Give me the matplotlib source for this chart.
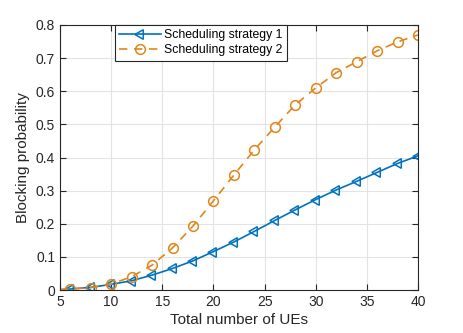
import matplotlib
matplotlib.use("Agg")
import matplotlib.pyplot as plt

ues = [5, 6, 8, 10, 12, 14, 16, 18, 20, 22, 24, 26, 28, 30, 32, 34, 36, 38, 40]
strategy1 = [0.001, 0.003, 0.008, 0.017, 0.028, 0.045, 0.065, 0.088, 0.116, 0.145, 0.177,
             0.210, 0.242, 0.273, 0.302, 0.328, 0.355, 0.382, 0.405]
strategy2 = [0.001, 0.003, 0.007, 0.018, 0.040, 0.075, 0.127, 0.193, 0.269, 0.347, 0.423,
             0.492, 0.559, 0.610, 0.656, 0.689, 0.722, 0.749, 0.770]
labels = ["Scheduling strategy 1", "Scheduling strategy 2"]
xticks = [5, 10, 15, 20, 25, 30, 35, 40]
yticks = [0, 0.1, 0.2, 0.3, 0.4, 0.5, 0.6, 0.7, 0.8]

plt.rcParams['font.family'] = ['Liberation Sans', 'DejaVu Sans']

fig = plt.figure(figsize=(4.63, 3.33), dpi=100)
ax = fig.add_axes([60/463, 1 - 290/333, 358/463, 265/333])

blue = '#0072BD'
orange = '#E0861C'
ax.plot(ues, strategy1, '-', color=blue, lw=1.2, marker=(3, 0, 90), markersize=8,
        markerfacecolor='none', markeredgewidth=1.1, markevery=slice(1, None), label=labels[0])
ax.plot(ues, strategy2, '--', color=orange, lw=1.2, marker='o', markersize=7,
        markerfacecolor='none', markeredgewidth=1.1, markevery=slice(1, None), label=labels[1],
        dashes=(5, 4))

ax.set_xlim(5, 40)
ax.set_ylim(0, 0.8)
ax.set_xticks(xticks)
ax.set_yticks(yticks)
ax.set_yticklabels([f"{v:g}" for v in yticks])
ax.grid(True, color='#e3e3e3', lw=0.8)
ax.set_axisbelow(True)
ax.tick_params(direction='in', length=4, labelsize=10, colors='#262626', top=True, right=True,
               labeltop=False, labelright=False)
for s in ax.spines.values():
    s.set_color('#262626')
    s.set_linewidth(0.8)
ax.set_xlabel("Total number of UEs", fontsize=11, color='#262626', labelpad=3)
ax.set_ylabel("Blocking probability", fontsize=11, color='#262626', labelpad=4)

leg = ax.legend(loc='upper left', bbox_to_anchor=(55/358, 1.0), borderaxespad=0,
                fontsize=8.8, fancybox=False, framealpha=1, edgecolor='#262626',
                handlelength=3.4, borderpad=0.35, labelspacing=0.25, handletextpad=0.3)
leg.get_frame().set_linewidth(0.8)

fig.savefig("out.png", dpi=100)
